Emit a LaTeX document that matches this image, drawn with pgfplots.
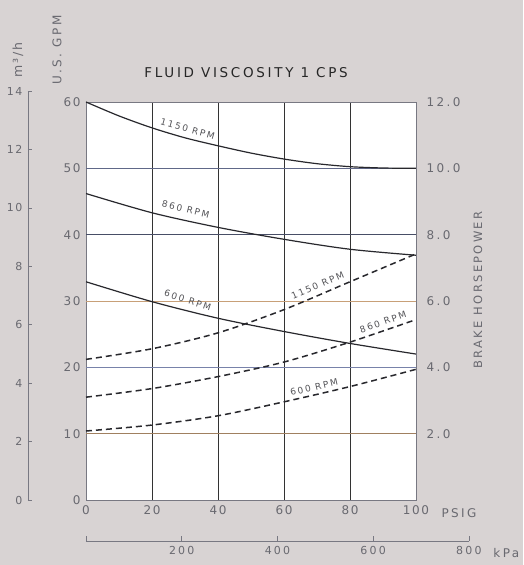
\documentclass[border=0pt]{standalone}
\usepackage{fontspec}
\setmainfont{DejaVu Sans}[LetterSpace=14]
\newfontfamily\wide{DejaVu Sans}[LetterSpace=20]
\usepackage{pgfplots}
\pgfplotsset{compat=1.18}
\definecolor{bg}{RGB}{216,211,211}
\definecolor{txt}{RGB}{105,105,112}
\definecolor{gorange}{RGB}{200,160,120}
\definecolor{gblue}{RGB}{120,130,170}
\definecolor{curve}{RGB}{40,40,45}
\definecolor{frame}{RGB}{120,120,130}
\begin{document}
\begin{tikzpicture}
\fill[bg] (-86pt,-65pt) rectangle (437pt,500pt);
% ---------- main axis (U.S. GPM) ----------
\begin{axis}[
  at={(0pt,0pt)}, anchor=south west,
  scale only axis, width=330pt, height=398pt,
  xmin=0, xmax=100, ymin=0, ymax=60,
  xtick={0,20,40,60,80,100}, xticklabels={0,20,40,60,80,100},
  ytick={0,10,20,30,40,50,60}, yticklabels={0,10,20,30,40,50,60},
  xtick pos=bottom, ytick pos=left,
  major tick length=0pt,
  xmajorgrids, major x grid style={black!80, line width=0.45pt},
  axis line style={frame, line width=0.7pt},
  tick label style={text=txt, font=\fontsize{12}{12}\selectfont},
  xticklabel style={yshift=-2pt},
  yticklabel style={xshift=-2pt},
  axis background/.style={fill=white},
  clip=false,
]
\draw[gorange!80!black, line width=0.5pt] (axis cs:0,10) -- (axis cs:100,10);
\draw[gblue, line width=0.5pt] (axis cs:0,20) -- (axis cs:100,20);
\draw[gorange, line width=0.5pt] (axis cs:0,30) -- (axis cs:100,30);
\draw[gblue!60!black, line width=0.5pt] (axis cs:0,40) -- (axis cs:100,40);
\draw[gblue!80!black, line width=0.5pt] (axis cs:0,50) -- (axis cs:100,50);
\addplot[curve, line width=1.2pt, smooth] coordinates {(0,60) (10,57.9) (20,56.1) (30,54.6) (40,53.4) (50,52.3) (60,51.4) (70,50.7) (80,50.25) (90,50.05) (100,50.0)};
\addplot[curve, line width=1.2pt, smooth] coordinates {(0,46.2) (20,43.3) (40,41.1) (60,39.3) (80,37.8) (100,36.9)};
\addplot[curve, line width=1.2pt, smooth] coordinates {(0,32.9) (20,29.9) (40,27.4) (60,25.4) (80,23.6) (100,22.0)};
\node[font=\wide\fontsize{9}{9}\selectfont, text=curve!80, rotate=-16] at (axis cs:30.8,55.9) {1150 RPM};
\node[font=\wide\fontsize{9}{9}\selectfont, text=curve!80, rotate=-14] at (axis cs:30.2,43.8) {860 RPM};
\node[font=\wide\fontsize{9}{9}\selectfont, text=curve!80, rotate=-18] at (axis cs:30.8,30.1) {600 RPM};
\node[font=\wide\fontsize{9}{9}\selectfont, text=curve!80, rotate=23] at (axis cs:70.2,32.3) {1150 RPM};
\node[font=\wide\fontsize{9}{9}\selectfont, text=curve!80, rotate=19] at (axis cs:90.0,26.8) {860 RPM};
\node[font=\wide\fontsize{9}{9}\selectfont, text=curve!80, rotate=13] at (axis cs:69.1,17.0) {600 RPM};
\node[font=\wide\fontsize{13.5}{13.5}\selectfont, text=black!85] at (axis cs:48.5,60) [yshift=29pt] {FLUID VISCOSITY 1 CPS};
\node[font=\wide\fontsize{12}{12}\selectfont, text=txt, anchor=west] at (axis cs:100,0) [xshift=22pt, yshift=-13pt] {PSIG};
\end{axis}
% ---------- right axis (brake horsepower) ----------
\begin{axis}[
  at={(0pt,0pt)}, anchor=south west,
  scale only axis, width=330pt, height=398pt,
  xmin=0, xmax=100, ymin=0, ymax=12,
  axis x line=none, axis y line*=right,
  ytick={2,4,6,8,10,12}, yticklabels={2.0,4.0,6.0,8.0,10.0,12.0},
  major tick length=0pt,
  axis line style={frame, line width=0.7pt},
  tick label style={text=txt, font=\wide\fontsize{12}{12}\selectfont},
  yticklabel style={anchor=west, xshift=7pt},
  clip=false,
]
\addplot[curve, line width=1.5pt, dash pattern=on 6pt off 4pt, smooth] coordinates {(0,4.24) (20,4.56) (40,5.04) (60,5.74) (80,6.58) (100,7.42)};
\addplot[curve, line width=1.5pt, dash pattern=on 6pt off 4pt, smooth] coordinates {(0,3.10) (20,3.36) (40,3.72) (60,4.16) (80,4.76) (100,5.44)};
\addplot[curve, line width=1.5pt, dash pattern=on 6pt off 4pt, smooth] coordinates {(0,2.08) (20,2.26) (40,2.54) (60,2.96) (80,3.42) (100,3.94)};
\end{axis}
% ---------- m3/h axis ----------
\begin{axis}[
  at={(-58pt,0pt)}, anchor=south west,
  scale only axis, width=1pt, height=408.9pt,
  xmin=0, xmax=1, ymin=0, ymax=14,
  hide x axis, axis y line=left,
  axis line style={-, frame, line width=0.7pt},
  ytick={0,2,4,6,8,10,12,14}, yticklabels={0,2,4,6,8,10,12,14},
  tick align=inside, major tick length=4pt,
  major tick style={frame, line width=0.7pt},
  tick label style={text=txt, font=\fontsize{11}{11}\selectfont},
  yticklabel style={xshift=-2pt},
]
\end{axis}
% ---------- kPa axis ----------
\begin{axis}[
  at={(0pt,-41pt)}, anchor=south west,
  scale only axis, width=382.9pt, height=1pt,
  xmin=0, xmax=800, ymin=0, ymax=1,
  hide y axis, axis x line=bottom,
  axis line style={-, frame, line width=0.7pt},
  xtick={0,200,400,600,800}, xticklabels={,200,400,600,800},
  tick align=inside, major tick length=5pt,
  major tick style={frame, line width=0.7pt},
  tick label style={text=txt, font=\wide\fontsize{11}{11}\selectfont},
  xticklabel style={yshift=-2pt},
  clip=false,
]
\node[font=\wide\fontsize{12}{12}\selectfont, text=txt, anchor=west] at (axis cs:800,0) [xshift=21pt, yshift=-12pt] {kPa};
\end{axis}
\node[font=\wide\fontsize{12}{12}\selectfont, text=txt, rotate=90] at (-29pt,450pt) {U.S. GPM};
\node[font=\fontsize{12.5}{12.5}\selectfont, text=txt, rotate=90] at (-68pt,440pt) {m³/h};
\node[font=\wide\fontsize{11.5}{11.5}\selectfont, text=txt, rotate=90] at (392pt,210pt) {BRAKE HORSEPOWER};
\pgfresetboundingbox
\path (-86pt,-65pt) rectangle (437pt,500pt);
\end{tikzpicture}
\end{document}
